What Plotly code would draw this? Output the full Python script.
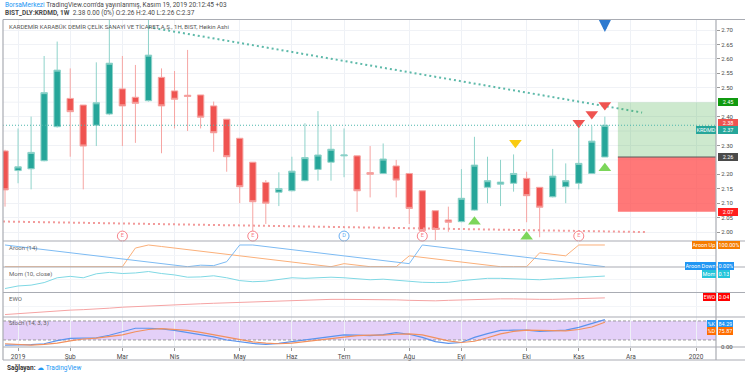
import plotly.graph_objects as go
import pandas as pd

# ---------------- data ----------------
dates = pd.date_range("2018-12-31", periods=47, freq="7D")
opens = [2.281, 2.213, 2.219, 2.247, 2.365, 2.463, 2.440, 2.370, 2.409, 2.496, 2.467, 2.455,
         2.536, 2.489, 2.474, 2.475, 2.437, 2.391, 2.325, 2.242, 2.172, 2.138, 2.143, 2.178,
         2.217, 2.242, 2.264, 2.264, 2.206, 2.203, 2.229, 2.203, 2.143, 2.074, 2.042, 2.036,
         2.076, 2.155, 2.166, 2.169, 2.186, 2.155, 2.122, 2.157, 2.169, 2.203, 2.260]
highs = [2.285, 2.359, 2.400, 2.610, 2.660, 2.567, 2.440, 2.588, 2.760, 2.610, 2.579, 2.760,
         2.567, 2.558, 2.631, 2.475, 2.452, 2.391, 2.325, 2.242, 2.180, 2.207, 2.261, 2.377,
         2.419, 2.367, 2.359, 2.264, 2.298, 2.307, 2.250, 2.203, 2.143, 2.074, 2.088, 2.218,
         2.330, 2.261, 2.250, 2.269, 2.209, 2.155, 2.288, 2.238, 2.365, 2.367, 2.400]
lows = [2.088, 2.169, 2.148, 2.245, 2.362, 2.261, 2.148, 2.298, 2.405, 2.298, 2.309, 2.452,
        2.273, 2.359, 2.350, 2.359, 2.278, 2.209, 2.100, 2.001, 2.028, 2.090, 2.141, 2.176,
        2.178, 2.178, 2.190, 2.070, 2.120, 2.201, 2.120, 2.028, 1.972, 1.972, 2.001, 2.034,
        2.074, 2.100, 2.090, 2.140, 2.034, 1.982, 2.120, 2.100, 2.148, 2.201, 2.260]
closes = [2.146, 2.226, 2.276, 2.483, 2.561, 2.417, 2.298, 2.448, 2.585, 2.437, 2.446, 2.613,
          2.437, 2.460, 2.470, 2.398, 2.344, 2.261, 2.157, 2.105, 2.100, 2.151, 2.211, 2.258,
          2.267, 2.287, 2.267, 2.143, 2.200, 2.253, 2.180, 2.082, 2.005, 2.009, 2.034, 2.117,
          2.232, 2.178, 2.173, 2.203, 2.126, 2.086, 2.194, 2.178, 2.238, 2.315, 2.370]

aroon_up = [0, 0, 0, 0, 0, 0, 0, 0, 0, 0, 86, 100, 93, 86, 79, 71, 64, 57, 50, 43, 36, 29, 21, 14,
            7, 0, 14, 7, 0, 0, 0, 50, 43, 36, 29, 21, 14, 7, 0, 0, 0, 64, 57, 50, 100, 100, 100]
aroon_down = [100, 93, 86, 79, 71, 64, 57, 50, 43, 36, 29, 21, 14, 7, 0, 7, 5, 23, 100, 100, 93, 86,
              79, 71, 64, 57, 50, 43, 36, 29, 21, 14, 100, 93, 86, 79, 71, 64, 57, 50, 43, 36, 29,
              21, 14, 7, 0]
mom = [-0.31, -0.22, -0.19, -0.10, 0.07, 0.12, 0.07, 0.21, 0.26, 0.22, 0.24, 0.29, 0.22, 0.17,
       0.09, 0.10, 0.14, 0.07, -0.03, -0.07, -0.05, 0.02, 0.07, 0.05, 0.07, 0.09, 0.07, 0.03,
       0.00, 0.02, -0.02, -0.05, -0.09, -0.10, -0.09, -0.03, 0.02, 0.05, 0.05, 0.03, 0.02, 0.00,
       0.03, 0.05, 0.07, 0.10, 0.13]
ewo = [-0.232, -0.216, -0.200, -0.184, -0.176, -0.160, -0.152, -0.144, -0.128, -0.112, -0.101,
       -0.088, -0.080, -0.072, -0.064, -0.056, -0.048, -0.040, -0.032, -0.024, -0.016, -0.011,
       -0.005, 0.000, 0.008, 0.016, 0.016, 0.016, 0.008, 0.008, 0.008, 0.000, -0.008, -0.008,
       0.000, 0.008, 0.016, 0.024, 0.024, 0.024, 0.016, 0.016, 0.016, 0.024, 0.032, 0.040, 0.040]
stoch_k = [4, 4, 5, 8, 18, 25, 27, 27, 35, 45, 57, 57, 55, 50, 44, 38, 30, 20, 14, 9, 6, 9, 15, 20,
           25, 31, 36, 35, 34, 37, 43, 38, 28, 15, 9, 12, 28, 40, 50, 51, 51, 47, 48, 51, 60, 72, 84.29]
stoch_d = [8, 6, 4, 6, 10, 17, 23, 26, 30, 36, 46, 53, 56, 54, 50, 44, 37, 29, 21, 14, 10, 8, 10, 15,
           20, 25, 31, 34, 35, 35, 38, 39, 36, 27, 17, 12, 16, 27, 39, 47, 51, 50, 49, 49, 53, 61, 75.87]

tick_dates = ["2019-01-07", "2019-02-04", "2019-03-04", "2019-04-01", "2019-05-06", "2019-06-03",
              "2019-07-01", "2019-08-05", "2019-09-02", "2019-10-07", "2019-11-04", "2019-12-02",
              "2020-01-06"]
tick_labels = ["2019", "Şub", "Mar", "Nis", "May", "Haz", "Tem", "Ağu", "Eyl", "Eki", "Kas", "Ara", "2020"]
price_ticks = [2.00, 2.05, 2.10, 2.15, 2.20, 2.30, 2.40, 2.50, 2.55, 2.60, 2.65, 2.70]
price_grid_extra = [2.25, 2.35, 2.45]

# trend lines / markers / position
res_line_x = ["2019-03-18", "2019-12-08"]
res_line_y = [2.710, 2.414]
sup_line_x = ["2018-12-29 22:00", "2019-12-09 12:00"]
sup_line_y = [2.0365, 2.000]
event_dates = ["2019-03-04", "2019-05-13", "2019-07-01", "2019-08-12", "2019-11-04"]
event_text = ["E", "E", "D", "E", "E"]
green_up_dates = ["2019-09-09", "2019-10-07", "2019-11-18"]
green_up_y = [2.036, 1.984, 2.221]
red_dn_dates = ["2019-11-04", "2019-11-11", "2019-11-18"]
red_dn_y = [2.379, 2.409, 2.440]
yellow_dn_dates = ["2019-10-01"]
yellow_dn_y = [2.309]
pos_start = "2019-11-25"
pos_target, pos_entry, pos_stop = 2.45, 2.26, 2.07
last_price = 2.37

# ---------------- layout helpers ----------------
W, H = 745, 375
X0, X1 = 3 / W, 716 / W
def py(px):
    return 1 - px / H
def dom(top, bot):
    return [py(bot), py(top)]
xrange_ = ["2018-12-29 22:00", "2020-01-16 16:00"]
FONT = "Roboto"
GRID = "#EEF1F6"

fig = go.Figure()

# candles
fig.add_trace(go.Candlestick(
    x=dates, open=opens, high=highs, low=lows, close=closes,
    increasing=dict(line=dict(color="#8FD3CA", width=1), fillcolor="#26A69A"),
    decreasing=dict(line=dict(color="#F6A5A3", width=1), fillcolor="#EF5350"),
    whiskerwidth=0, xaxis="x", yaxis="y", showlegend=False, hoverinfo="skip"))

# trend lines
fig.add_trace(go.Scatter(x=res_line_x, y=res_line_y, mode="lines", xaxis="x", yaxis="y",
                         line=dict(color="#5DB9A9", width=2, dash="2px,3px"), showlegend=False))
fig.add_trace(go.Scatter(x=sup_line_x, y=sup_line_y, mode="lines", xaxis="x", yaxis="y",
                         line=dict(color="#F29A9A", width=2, dash="2px,3px"), showlegend=False))

# triangles
fig.add_trace(go.Scatter(x=green_up_dates, y=green_up_y, mode="markers", xaxis="x", yaxis="y",
                         marker=dict(symbol="triangle-up", size=11, color="#7CD65A"), showlegend=False))
fig.add_trace(go.Scatter(x=red_dn_dates, y=red_dn_y, mode="markers", xaxis="x", yaxis="y",
                         marker=dict(symbol="triangle-down", size=11, color="#EF5350"), showlegend=False))
fig.add_trace(go.Scatter(x=yellow_dn_dates, y=yellow_dn_y, mode="markers", xaxis="x", yaxis="y",
                         marker=dict(symbol="triangle-down", size=11, color="#F9CB12"), showlegend=False))

# event markers
ev_colors = ["#F7838A" if t == "E" else "#6AAEF2" for t in event_text]
fig.add_trace(go.Scatter(x=event_dates, y=[1.986] * len(event_dates), mode="markers+text",
                         text=event_text, textposition="middle center",
                         textfont=dict(size=5.5, color=ev_colors, family=FONT),
                         xaxis="x", yaxis="y",
                         marker=dict(symbol="circle", size=10, color="white",
                                     line=dict(color=ev_colors, width=1)),
                         showlegend=False, cliponaxis=False))

# Aroon
fig.add_trace(go.Scatter(x=dates, y=aroon_up, mode="lines", xaxis="x2", yaxis="y2",
                         line=dict(color="#FBB07A", width=1), showlegend=False))
fig.add_trace(go.Scatter(x=dates, y=aroon_down, mode="lines", xaxis="x2", yaxis="y2",
                         line=dict(color="#7DBBF3", width=1), showlegend=False))
# Mom
fig.add_trace(go.Scatter(x=dates, y=mom, mode="lines", xaxis="x3", yaxis="y3",
                         line=dict(color="#7FD8E4", width=1), showlegend=False))
# EWO
fig.add_trace(go.Scatter(x=dates, y=ewo, mode="lines", xaxis="x4", yaxis="y4",
                         line=dict(color="#F5A3A3", width=1), showlegend=False))
# Stoch
fig.add_trace(go.Scatter(x=dates, y=stoch_k, mode="lines", xaxis="x5", yaxis="y5",
                         line=dict(color="#5B93EE", width=1.2), showlegend=False))
fig.add_trace(go.Scatter(x=dates, y=stoch_d, mode="lines", xaxis="x5", yaxis="y5",
                         line=dict(color="#F2905E", width=1.2), showlegend=False))

main_dom = dom(20, 241)
aroon_dom = dom(241, 267)
mom_dom = dom(267, 292.5)
ewo_dom = dom(292.5, 317)
stoch_dom = dom(317, 347)

xcommon = dict(type="date", range=xrange_, tickmode="array", tickvals=tick_dates, showgrid=True,
               gridcolor=GRID, gridwidth=1, zeroline=False, showline=False, domain=[X0, X1],
               fixedrange=True)
ycommon = dict(side="right", zeroline=False, showline=False, fixedrange=True)

layout = dict(
    width=W, height=H, margin=dict(l=0, r=0, t=0, b=0), autosize=False,
    paper_bgcolor="white", plot_bgcolor="white", showlegend=False,
    font=dict(family=FONT, size=7, color="#4A4A4A"),
    xaxis=dict(**xcommon, anchor="y", showticklabels=False, rangeslider=dict(visible=False)),
    xaxis2=dict(**xcommon, anchor="y2", showticklabels=False),
    xaxis3=dict(**xcommon, anchor="y3", showticklabels=False),
    xaxis4=dict(**xcommon, anchor="y4", showticklabels=False),
    xaxis5=dict(**xcommon, anchor="y5", showticklabels=True, ticktext=tick_labels,
                ticks="outside", ticklen=3, tickcolor="#9A9A9A",
                tickfont=dict(size=6.5, color="#4A4A4A", family=FONT)),
    yaxis=dict(**ycommon, domain=main_dom, anchor="x", range=[1.969, 2.7347],
               tickmode="array", tickvals=price_ticks, tickformat=".2f",
               ticks="outside", ticklen=3, tickcolor="#9A9A9A",
               tickfont=dict(size=6, color="#4A4A4A", family=FONT),
               showgrid=True, gridcolor="#F0F2F6"),
    yaxis2=dict(**ycommon, domain=aroon_dom, anchor="x2", range=[-1.4, 118.4],
                showticklabels=False, showgrid=True, gridcolor="#F3F5F8", tickvals=[50]),
    yaxis3=dict(**ycommon, domain=mom_dom, anchor="x3", range=[-0.45, 0.45],
                showticklabels=False, showgrid=True, gridcolor="#F3F5F8", tickvals=[0.0]),
    yaxis4=dict(**ycommon, domain=ewo_dom, anchor="x4", range=[-0.272, 0.128],
                showticklabels=False, showgrid=True, gridcolor="#F3F5F8", tickvals=[-0.1]),
    yaxis5=dict(**ycommon, domain=stoch_dom, anchor="x5", range=[-2.2, 92.5],
                showticklabels=False, showgrid=False),
)
fig.update_layout(**layout)

shapes = []
for g in price_grid_extra:
    shapes.append(dict(type="line", xref="paper", yref="y", x0=X0, x1=X1, y0=g, y1=g,
                       line=dict(color="#F0F2F6", width=1), layer="below"))
# stoch band
shapes.append(dict(type="rect", xref="paper", yref="y5", x0=X0, x1=X1, y0=20, y1=80,
                   fillcolor="#E4D0F8", line=dict(width=0), layer="below"))
for lv in (20, 80):
    shapes.append(dict(type="line", xref="paper", yref="y5", x0=X0, x1=X1, y0=lv, y1=lv,
                       line=dict(color="#9A9A9A", width=1, dash="3px,2px"), layer="below"))
# position boxes
shapes.append(dict(type="rect", xref="x", yref="y", x0=pos_start, x1=xrange_[1], y0=pos_entry,
                   y1=pos_target, fillcolor="rgba(76,175,80,0.28)", line=dict(width=0), layer="above"))
shapes.append(dict(type="rect", xref="x", yref="y", x0=pos_start, x1=xrange_[1], y0=pos_stop,
                   y1=pos_entry, fillcolor="rgba(255,82,82,0.78)", line=dict(width=0), layer="above"))
shapes.append(dict(type="line", xref="x", yref="y", x0=pos_start, x1=xrange_[1], y0=pos_entry,
                   y1=pos_entry, line=dict(color="#5A5A5A", width=1)))
# last price line
shapes.append(dict(type="line", xref="paper", yref="y", x0=X0, x1=X1, y0=last_price, y1=last_price,
                   line=dict(color="#4DB6AC", width=1, dash="1px,2px")))
# borders / separators
SEP = "#A9ACB3"
for ypx in (19.5, 241, 267, 292.5, 317, 347, 360):
    shapes.append(dict(type="line", xref="paper", yref="paper", x0=X0, x1=1, y0=py(ypx), y1=py(ypx),
                       line=dict(color=SEP, width=1.2)))
for xpx in (3, 716):
    shapes.append(dict(type="line", xref="paper", yref="paper", x0=xpx / W, x1=xpx / W,
                       y0=py(360), y1=py(19.5), line=dict(color=SEP, width=1.2)))
fig.update_layout(shapes=shapes)

ann = []
def txt(x, y, s, size=6.5, color="#4A4A4A", xanchor="left"):
    ann.append(dict(x=x / W, y=py(y), xref="paper", yref="paper", text=s, showarrow=False,
                    xanchor=xanchor, yanchor="middle", font=dict(size=size, color=color, family=FONT)))
def box(x, y, s, bg, xanchor="left", fc="white", width=None):
    d = dict(x=x / W, y=py(y), xref="paper", yref="paper", text=s, showarrow=False,
             xanchor=xanchor, yanchor="middle", bgcolor=bg, borderpad=0.5, borderwidth=0,
             height=6.5, valign="middle",
             font=dict(size=5.5, color=fc, family=FONT))
    if width:
        d["width"] = width
    ann.append(d)

txt(3, 5, "<span style='color:#2196F3'>BorsaMerkezi</span> TradingView.com'da yayınlanmış, Kasım 19, 2019 20:12:45 +03")
txt(3, 13, "<b>BIST_DLY:KRDMD, 1W</b>  2.38 0.00 (0%) O:2.26 H:2.40 L:2.26 C:2.37")
txt(7, 27, "KARDEMİR KARABÜK DEMİR ÇELİK SANAYİ VE TİCARET A.Ş., 1H, BIST, Heikin Ashi", size=6, color="#555")
txt(7, 248, "Aroon (14)", size=6, color="#666")
txt(7, 273.5, "Mom (10, close)", size=6, color="#666")
txt(7, 298, "EWO", size=6, color="#666")
txt(7, 322.5, "Stoch (14, 3, 3)", size=6, color="#666")
txt(5, 368, "<b>Sağlayan:</b> <span style='color:#2196F3'>☁ TradingView</span>", size=6.5, color="#333")

# price-axis labels
box(717.5, 102.3, "2.45", "#109A10", width=19)
box(717.5, 123.0, "2.38", "#EF5350", width=19)
box(717.5, 130.3, "2.37", "#26A69A", width=19)
box(715.5, 130.3, "KRDMD", "#26A69A", xanchor="right")
box(717.5, 156.7, "2.26", "#4A4A4A", width=19)
box(717.5, 212.2, "2.07", "#FF1E1E", width=19)
# indicator labels
box(715.5, 245, "Aroon Up", "#F57C00", xanchor="right")
box(717.5, 245, "100.00%", "#F57C00")
box(715.5, 266, "Aroon Down", "#2196F3", xanchor="right")
box(717.5, 266, "0.00%", "#2196F3")
box(715.5, 274.3, "Mom", "#26C6DA", xanchor="right")
box(717.5, 274.3, "0.13", "#26C6DA")
box(715.5, 297, "EWO", "#FF0000", xanchor="right")
box(717.5, 297, "0.04", "#FF0000")
box(715.5, 324.3, "%K", "#2196F3", xanchor="right")
box(717.5, 324.3, "84.29", "#2196F3")
box(715.5, 331, "%D", "#FF6D00", xanchor="right")
box(717.5, 331, "75.87", "#FF6D00")
txt(719, 346, "0.00", size=6, color="#4A4A4A")

# blue arrow (down) at last bar
ann.append(dict(x=dates[-1], y=2.693, xref="x", yref="y", ax=0, ay=-13, axref="pixel", ayref="pixel",
                showarrow=True, arrowhead=2, arrowsize=0.8, arrowwidth=3, arrowcolor="#2E7BD0", text=""))
fig.update_layout(annotations=ann)

fig.write_html("out.html", config={"displayModeBar": False},
               post_script="document.body.style.margin='0';document.body.style.overflow='hidden';")
